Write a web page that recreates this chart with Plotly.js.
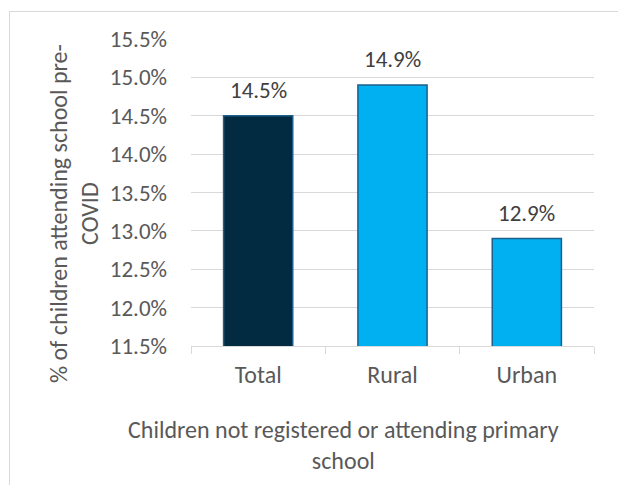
<!DOCTYPE html>
<html>
<head>
<meta charset="utf-8">
<script src="https://cdn.plot.ly/plotly-3.0.1.min.js"></script>
<style>
  html, body { margin: 0; padding: 0; background: #ffffff; }
  #wrap { position: relative; width: 618px; height: 485px; overflow: hidden; }
  #frame { position: absolute; left: 9px; top: 11px; width: 700px; height: 600px; border: 1px solid #d9d9d9; box-sizing: border-box; }
  #chart { position: absolute; left: 0; top: 0; width: 618px; height: 485px; }
</style>
</head>
<body>
<div id="wrap">
  <div id="frame"></div>
  <div id="chart"></div>
</div>
<script>
const categories = ["Total", "Rural", "Urban"];
const values = [14.5, 14.9, 12.9];
const labels = ["14.5%", "14.9%", "12.9%"];
const barColors = ["#022a40", "#00b0f0", "#00b0f0"];
const yTickVals = [11.5, 12.0, 12.5, 13.0, 13.5, 14.0, 14.5, 15.0, 15.5];
const yTickText = ["11.5%", "12.0%", "12.5%", "13.0%", "13.5%", "14.0%", "14.5%", "15.0%", "15.5%"];
const xTitle = "Children not registered or attending primary<br>school";
const yTitle = "% of children attending school pre-<br>COVID";

const FONT = "Carlito, Lato, 'Liberation Sans', sans-serif";
const GREY = "#595959";

const trace = {
  type: "bar",
  x: categories,
  y: values,
  marker: { color: barColors, line: { color: "#1f5f8b", width: 1.5 } },
  hoverinfo: "skip"
};

const annotations = categories.map((c, i) => ({
  x: c, y: values[i], xref: "x", yref: "y",
  text: labels[i], showarrow: false,
  yanchor: "bottom", yshift: 10,
  font: { family: FONT, size: 23, color: "#404040" }
}));

// axis titles placed as annotations (Excel positions them off the plot centre)
annotations.push({
  xref: "paper", yref: "paper", x: -0.29, y: 0.43,
  xanchor: "center", yanchor: "middle",
  text: yTitle, textangle: -90, showarrow: false,
  font: { family: FONT, size: 24, color: GREY }
});
annotations.push({
  xref: "paper", yref: "paper", x: 0.378, y: -0.322,
  xanchor: "center", yanchor: "middle",
  text: xTitle, showarrow: false,
  font: { family: FONT, size: 24, color: GREY }
});

const layout = {
  width: 618, height: 485,
  margin: { l: 191, r: 24, t: 39, b: 139 },
  paper_bgcolor: "rgba(0,0,0,0)",
  plot_bgcolor: "rgba(0,0,0,0)",
  showlegend: false,
  bargap: 0.485,
  font: { family: FONT, size: 24, color: GREY },
  xaxis: {
    type: "category",
    showline: true, linecolor: "#d9d9d9", linewidth: 1,
    ticks: "outside", tickson: "boundaries", ticklen: 7, tickcolor: "#d9d9d9",
    ticklabelstandoff: 7,
    tickfont: { family: FONT, size: 24, color: GREY },
    showgrid: false,
    automargin: false
  },
  yaxis: {
    range: [11.5, 15.5],
    tickvals: yTickVals, ticktext: yTickText,
    showgrid: true, gridcolor: "#d9d9d9", gridwidth: 1,
    zeroline: false, showline: false, ticks: "",
    ticklabelstandoff: 23,
    tickfont: { family: FONT, size: 23, color: GREY },
    automargin: false
  },
  annotations: annotations
};

Plotly.newPlot("chart", [trace], layout, { displayModeBar: false, staticPlot: true });
</script>
</body>
</html>
